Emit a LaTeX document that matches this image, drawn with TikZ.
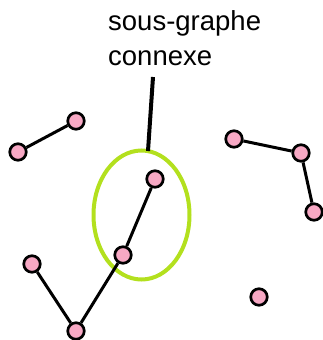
\documentclass[tikz,border=0pt]{standalone}
\usepackage{fontspec}
\setmainfont{Liberation Sans}
\definecolor{vpink}{HTML}{F7A8C4}
\definecolor{lime}{HTML}{B3E01E}
\begin{document}
\begin{tikzpicture}[x=1pt,y=-1pt,
  vtx/.style={circle,draw=black,fill=vpink,line width=2.7pt,minimum size=16.5pt,inner sep=0pt},
  edge/.style={line width=3pt,black},
  lbl/.style={align=left,anchor=north west,inner sep=0pt,font=\fontsize{27.5}{35}\selectfont}]
\useasboundingbox (0,0) rectangle (323,340);
\draw[lime,line width=4pt] (141.5,215) ellipse [x radius=48,y radius=64.5];
\coordinate (etop) at (148,151);
\node[vtx] (A) at (18,152) {};
\node[vtx] (B) at (76,121) {};
\node[vtx] (C) at (155,179) {};
\node[vtx] (D) at (123,255) {};
\node[vtx] (E) at (76,331) {};
\node[vtx] (F) at (32,264) {};
\node[vtx] (G) at (234,139) {};
\node[vtx] (H) at (301,153) {};
\node[vtx] (I) at (314,212) {};
\node[vtx] (J) at (259,297) {};
\draw[edge] (A) -- (B);
\draw[edge] (C) -- (D);
\draw[edge] (D) -- (E);
\draw[edge] (F) -- (E);
\draw[edge] (G) -- (H);
\draw[edge] (H) -- (I);
\node[lbl] (T) at (108,10) {sous-graphe\\connexe};
\coordinate (ptop) at (153,77);
\draw[line width=4pt] (ptop) -- (etop);
\end{tikzpicture}
\end{document}
